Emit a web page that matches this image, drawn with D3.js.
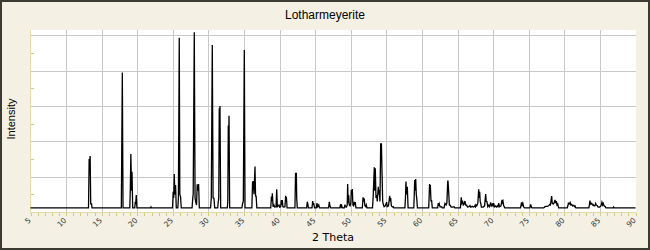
<!DOCTYPE html>
<html>
<head>
<meta charset="utf-8">
<script src="https://cdn.jsdelivr.net/npm/d3@7/dist/d3.min.js"></script>
<style>
  body { margin: 0; background: #fff; }
  svg { display: block; }
</style>
</head>
<body>
<div id="chart"></div>
<script>
/* global d3 */

var chartTitle = "Lotharmeyerite";
var xTitle = "2 Theta";
var yTitle = "Intensity";

// major x ticks (labelled) and y grid values (no labels on the y axis)
var xTickLabels = [5, 10, 15, 20, 25, 30, 35, 40, 45, 50, 55, 60, 65, 70, 75, 80, 85, 90];
var yGridValues = [20, 40, 60, 80, 100];
var yMinorValues = [10, 30, 50, 70, 90];

// diffraction pattern: [2 theta, intensity]
var pattern = [
  [5, 2.3],
  [13.15, 2.3], [13.24, 30], [13.3, 28], [13.38, 31.7], [13.46, 4.6], [13.58, 4.6], [13.64, 2.3],
  [17.76, 2.3], [17.9, 79], [18.0, 2.3],
  [18.95, 2.3], [19.02, 12.4], [19.1, 32.8], [19.2, 12], [19.26, 22.8], [19.36, 2.3],
  [19.65, 2.3], [19.72, 5.8], [19.78, 4.5], [19.86, 9.6], [19.95, 2.3],
  [21.85, 2.3], [21.93, 2.9], [22.0, 2.3],
  [24.95, 2.3], [25.05, 11.5], [25.12, 8], [25.2, 21.5], [25.28, 10], [25.38, 15.3], [25.48, 2.3],
  [25.7, 2.3], [25.78, 8], [25.9, 98.6], [25.98, 10], [26.08, 8.7], [26.18, 2.3],
  [27.7, 2.3], [27.8, 8], [27.86, 10], [28.01, 101.7], [28.12, 8], [28.25, 5], [28.33, 4],
  [28.42, 15.7], [28.52, 12], [28.62, 15.8], [28.72, 2.3],
  [30.3, 2.3], [30.4, 8], [30.54, 94.5], [30.65, 8], [30.78, 7.7], [30.88, 2.3],
  [31.3, 2.3], [31.38, 5.8], [31.45, 8], [31.52, 58.7], [31.57, 50], [31.62, 60], [31.72, 2.3],
  [32.65, 2.3], [32.72, 6], [32.79, 49], [32.84, 40], [32.89, 54.5], [32.98, 2.3],
  [34.7, 2.3], [34.81, 5], [34.9, 6], [35.04, 91.7], [35.14, 2.3],
  [36.1, 2.3], [36.2, 17.2], [36.26, 14], [36.3, 17.5], [36.4, 10], [36.54, 25.7], [36.62, 9],
  [36.7, 9], [36.8, 2.3],
  [38.75, 2.3], [38.85, 8.7], [38.92, 6], [38.98, 10.6], [39.08, 3], [39.2, 4], [39.3, 2.8],
  [39.5, 3], [39.59, 12.8], [39.68, 3], [39.8, 3.5], [39.91, 4], [40.0, 2.8], [40.15, 3],
  [40.24, 6.8], [40.3, 4], [40.38, 6.8], [40.46, 3], [40.6, 2.8], [40.75, 3], [40.85, 9.2],
  [40.9, 6], [40.95, 8.5], [41.05, 2.3],
  [42.15, 2.3], [42.24, 22.2], [42.3, 20], [42.35, 22.2], [42.4, 8], [42.48, 2.3],
  [43.8, 2.3], [43.89, 5.8], [43.96, 4.6], [44.05, 2.3],
  [44.55, 2.3], [44.65, 6.2], [44.72, 4], [44.79, 5], [44.9, 2.3],
  [45.15, 2.3], [45.25, 5], [45.35, 3], [45.5, 4], [45.6, 2.3],
  [46.88, 2.3], [46.98, 5.8], [47.08, 3.2], [47.18, 2.3],
  [48.45, 2.3], [48.58, 4.5], [48.65, 3], [48.72, 3.6], [48.8, 2.3],
  [49.08, 2.3], [49.18, 4.2], [49.25, 3], [49.4, 2.8], [49.5, 4], [49.56, 15.8], [49.63, 5],
  [49.7, 9.6], [49.78, 4], [49.9, 3.5], [50.0, 5], [50.07, 12.4], [50.14, 10], [50.21, 13],
  [50.3, 4], [50.4, 3.5], [50.49, 5.8], [50.56, 4], [50.63, 5.6], [50.72, 2.3],
  [51.62, 2.3], [51.72, 8.3], [51.8, 6], [51.88, 7.8], [51.98, 3.5], [52.1, 3], [52.18, 4], [52.28, 2.3],
  [53.05, 2.3], [53.15, 9], [53.3, 25.3], [53.37, 12], [53.44, 24.7], [53.54, 8], [53.64, 9.6],
  [53.72, 6], [53.86, 14.3], [53.93, 10], [54.0, 12.4], [54.1, 6], [54.2, 38.9], [54.26, 30],
  [54.3, 38.9], [54.39, 21.9], [54.48, 6], [54.57, 4.2], [54.68, 3], [54.85, 3.5], [55.04, 5.6],
  [55.12, 3], [55.3, 3.5], [55.46, 9.2], [55.53, 6], [55.6, 8], [55.7, 3.5], [55.85, 2.8],
  [55.97, 3], [56.05, 2.3],
  [57.6, 2.3], [57.68, 8], [57.75, 17.2], [57.83, 10], [57.94, 14.3], [58.05, 2.3],
  [58.85, 2.3], [58.92, 10], [58.98, 18.1], [59.04, 12], [59.12, 18.7], [59.2, 10], [59.26, 8], [59.36, 2.3],
  [60.95, 2.3], [61.07, 15.8], [61.12, 13], [61.17, 15.3], [61.27, 6], [61.35, 6.8], [61.45, 2.3],
  [62.2, 2.3], [62.29, 5], [62.36, 3.5], [62.43, 4.6], [62.55, 2.8], [62.77, 3], [62.85, 2.3],
  [63.1, 2.3], [63.23, 4.9], [63.32, 4.5], [63.4, 4], [63.5, 5], [63.62, 17.5], [63.66, 17.5],
  [63.75, 11.5], [63.85, 4], [63.97, 3.8], [64.1, 2.8], [64.3, 2.8], [64.5, 3], [64.6, 2.3],
  [65.4, 2.3], [65.52, 8.3], [65.6, 5], [65.72, 5.8], [65.8, 4], [65.92, 4.5], [66.04, 6.2],
  [66.14, 4], [66.28, 3.8], [66.4, 2.8], [66.6, 3], [66.74, 3.6], [66.85, 2.8], [67.07, 3.2],
  [67.2, 2.8], [67.35, 3], [67.45, 3.6], [67.52, 3], [67.59, 4], [67.7, 3.5], [67.85, 5],
  [67.97, 12.8], [68.04, 8], [68.11, 11.5], [68.18, 6], [68.25, 5], [68.35, 2.8], [68.6, 2.8],
  [68.8, 3.5], [68.95, 10.2], [69.03, 6], [69.13, 5.8], [69.25, 3], [69.37, 3.8], [69.5, 3],
  [69.65, 5.5], [69.75, 3.5], [69.88, 4.4], [69.97, 3.5], [70.07, 5], [70.18, 3], [70.3, 3.4],
  [70.45, 2.8], [70.58, 3.4], [70.68, 3], [70.78, 5], [70.9, 3], [71.1, 3.5], [71.24, 6.8],
  [71.3, 5.5], [71.38, 6.2], [71.48, 3.5], [71.56, 3], [71.65, 2.3],
  [73.85, 2.3], [73.99, 5.5], [74.08, 4], [74.17, 5], [74.3, 2.8], [74.4, 2.3],
  [75.15, 2.3], [75.27, 4.3], [75.35, 3], [75.45, 2.3],
  [77.1, 2.3], [77.28, 3], [77.45, 3.2], [77.6, 3.2], [77.8, 3.5], [77.94, 4.3], [78.05, 4],
  [78.22, 9], [78.3, 5], [78.45, 4.5], [78.55, 5], [78.69, 6.8], [78.78, 5], [78.87, 6.2],
  [78.97, 4], [79.07, 4.5], [79.2, 2.3],
  [80.4, 2.3], [80.5, 3.5], [80.57, 4.9], [80.68, 4.5], [80.81, 5.4], [80.92, 4], [81.04, 4.3],
  [81.15, 3.5], [81.32, 3.8], [81.42, 3], [81.51, 3.4], [81.62, 2.3],
  [83.45, 2.3], [83.52, 4], [83.6, 6.4], [83.7, 4.5], [83.84, 4.9], [83.94, 4], [84.02, 4.3],
  [84.15, 3.5], [84.28, 3.5], [84.4, 4.9], [84.5, 3.8], [84.62, 3.7], [84.75, 2.8], [84.95, 2.8],
  [85.15, 3.5], [85.28, 5.5], [85.38, 4], [85.46, 4.9], [85.58, 3.5], [85.7, 3.2], [85.85, 2.3],
  [86.85, 2.3], [86.93, 2.8], [87.0, 2.3],
  [90, 2.3]
];

var width = 650,
  height = 250,
  plot = { left: 30, top: 30, right: 636, bottom: 212 },
  axisColor = "#e4dca6",
  tickColor = "#d4ca88",
  gridColor = "#c8c8c8";

var x = d3.scaleLinear().domain([5, 90]).range([plot.left + 0.5, plot.right - 0.5]);
var y = d3.scaleLinear().domain([0, 103]).range([plot.bottom, plot.top]);

// snap to the pixel grid so 1px lines stay crisp
function px(v) {
  return Math.round(v) + 0.5;
}

var svg = d3
  .select("#chart")
  .append("svg")
  .attr("width", width)
  .attr("height", height);

// frame
svg
  .append("rect")
  .attr("x", 1)
  .attr("y", 1)
  .attr("width", width - 2)
  .attr("height", height - 2)
  .attr("fill", "#f4f1e4")
  .attr("stroke", "#3b3b33")
  .attr("stroke-width", 2);

// plot area
svg
  .append("rect")
  .attr("x", plot.left)
  .attr("y", plot.top)
  .attr("width", plot.right - plot.left)
  .attr("height", plot.bottom - plot.top)
  .attr("fill", "#ffffff");

// vertical grid
svg
  .append("g")
  .selectAll("line")
  .data(xTickLabels.slice(1, -1))
  .enter()
  .append("line")
  .attr("x1", function(d) { return px(x(d)); })
  .attr("x2", function(d) { return px(x(d)); })
  .attr("y1", plot.top)
  .attr("y2", plot.bottom)
  .attr("stroke", gridColor);

// horizontal grid
svg
  .append("g")
  .selectAll("line")
  .data(yGridValues)
  .enter()
  .append("line")
  .attr("x1", plot.left)
  .attr("x2", plot.right)
  .attr("y1", function(d) { return px(y(d)); })
  .attr("y2", function(d) { return px(y(d)); })
  .attr("stroke", gridColor);

// axis lines
svg
  .append("line")
  .attr("x1", plot.left + 0.5)
  .attr("x2", plot.left + 0.5)
  .attr("y1", plot.top)
  .attr("y2", plot.bottom + 1)
  .attr("stroke", axisColor);

svg
  .append("line")
  .attr("x1", plot.left)
  .attr("x2", plot.right)
  .attr("y1", plot.bottom + 0.5)
  .attr("y2", plot.bottom + 0.5)
  .attr("stroke", axisColor);

// minor x ticks, one per degree
svg
  .append("g")
  .selectAll("line")
  .data(d3.range(5, 91))
  .enter()
  .append("line")
  .attr("x1", function(d) { return px(x(d)); })
  .attr("x2", function(d) { return px(x(d)); })
  .attr("y1", plot.bottom + 1)
  .attr("y2", plot.bottom + 4)
  .attr("stroke", tickColor);

// minor y ticks, pointing into the plot
svg
  .append("g")
  .selectAll("line")
  .data(yMinorValues)
  .enter()
  .append("line")
  .attr("x1", plot.left + 1)
  .attr("x2", plot.left + 4)
  .attr("y1", function(d) { return px(y(d)); })
  .attr("y2", function(d) { return px(y(d)); })
  .attr("stroke", tickColor);

// x tick labels, rotated
svg
  .append("g")
  .selectAll("text")
  .data(xTickLabels)
  .enter()
  .append("text")
  .attr("transform", function(d) {
    return "translate(" + (x(d) - 1) + "," + (plot.bottom + 7) + ")rotate(-45)";
  })
  .attr("text-anchor", "end")
  .attr("dy", "0.35em")
  .attr("font-family", "DejaVu Sans")
  .attr("font-size", "7.5px")
  .attr("fill", "#333")
  .text(function(d) { return d; });

// the pattern
var clip = svg
  .append("clipPath")
  .attr("id", "plot-clip")
  .append("rect")
  .attr("x", plot.left)
  .attr("y", plot.top)
  .attr("width", plot.right - plot.left)
  .attr("height", plot.bottom - plot.top);

var line = d3
  .line()
  .x(function(d) { return x(d[0]); })
  .y(function(d) { return y(d[1]); });

svg
  .append("path")
  .datum(pattern)
  .attr("clip-path", "url(#plot-clip)")
  .attr("d", line)
  .attr("fill", "none")
  .attr("stroke", "#000")
  .attr("stroke-width", 1.3)
  .attr("stroke-linejoin", "miter");

// titles
svg
  .append("text")
  .attr("x", width / 2)
  .attr("y", 19)
  .attr("text-anchor", "middle")
  .attr("font-family", "Liberation Sans, Arial, sans-serif")
  .attr("font-size", "12px")
  .attr("fill", "#000")
  .text(chartTitle);

svg
  .append("text")
  .attr("x", 333)
  .attr("y", 240.5)
  .attr("text-anchor", "middle")
  .attr("font-family", "DejaVu Sans")
  .attr("font-size", "11px")
  .attr("fill", "#000")
  .text(xTitle);

svg
  .append("text")
  .attr("transform", "translate(15,119)rotate(-90)")
  .attr("text-anchor", "middle")
  .attr("font-family", "Liberation Sans, Arial, sans-serif")
  .attr("font-size", "11px")
  .attr("fill", "#000")
  .text(yTitle);
</script>
</body>
</html>
